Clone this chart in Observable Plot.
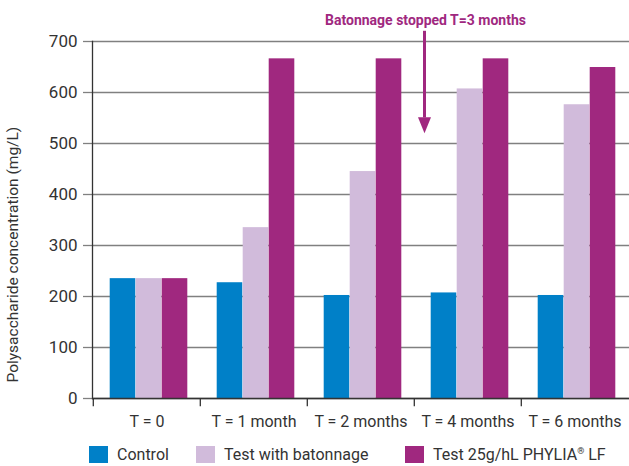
<!DOCTYPE html>
<html>
<head>
<meta charset="utf-8">
<script src="https://cdn.jsdelivr.net/npm/d3@7"></script>
<script src="https://cdn.jsdelivr.net/npm/@observablehq/plot@0.6"></script>
<style>
  html, body { margin: 0; padding: 0; background: #fff; }
  #chart { width: 629px; height: 466px; position: relative; font-family: Roboto, sans-serif; }
  #legend { display: flex; align-items: center; height: 31px; padding-left: 89px; padding-top: 8px; font-size: 16px; color: #333; box-sizing: border-box; white-space: nowrap; }
  .item { display: flex; align-items: center; flex: none; }
  .item:nth-child(1) { width: 107px; }
  .item:nth-child(2) { width: 209px; }
  .sw { width: 19px; height: 17px; margin-right: 9px; flex: none; }
  sup { font-size: 9px; vertical-align: 6px; line-height: 0; }
</style>
</head>
<body>
<div id="chart"></div>
<script>
const categories = ["T = 0", "T = 1 month", "T = 2 months", "T = 4 months", "T = 6 months"];
const seriesNames = ["Control", "Test with batonnage", "Test 25g/hL PHYLIA® LF"];
const control   = [235, 227, 202, 207, 202];
const batonnage = [235, 335, 445, 607, 576];
const phylia    = [235, 666, 666, 666, 649];
const colors = ["#0080c8", "#d1bbdb", "#a0287f"];
const yTicks = [0, 100, 200, 300, 400, 500, 600, 700];
const yLabel = "Polysaccharide concentration (mg/L)";
const annotationText = "Batonnage stopped T=3 months";
const annotationCategory = "T = 4 months";
const annotationTop = 720;
const annotationTip = 520;

const seriesValues = [control, batonnage, phylia];
const rows = seriesValues.flatMap((vals, s) => categories.map((c, i) => ({category: c, series: seriesNames[s], s, value: vals[i]})));

const purple = colors[2];
const downTriangle = {
  draw(ctx) {
    ctx.moveTo(0, 0);
    ctx.lineTo(-6.5, -16);
    ctx.lineTo(6.5, -16);
    ctx.closePath();
  }
};

const barW = 26;
const barMarks = seriesNames.map((name, s) =>
  Plot.barY(rows.filter(r => r.s === s), {
    x: "category", y: "value", fill: colors[s],
    insetLeft: 40.7, insetRight: 40.7, dx: (s - 1) * barW + 2
  })
);

const plot = Plot.plot({
  width: 629, height: 435,
  marginLeft: 92, marginRight: 0, marginTop: 41, marginBottom: 37,
  style: {fontFamily: "Roboto, sans-serif", fontSize: "16px", color: "#333", background: "white", overflow: "visible"},
  x: {domain: categories, padding: 0, axis: null},
  y: {domain: [0, 700], axis: null},
  marks: [
    Plot.gridY(yTicks, {stroke: "#808080", strokeOpacity: 1, strokeWidth: 1.3}),
    Plot.axisY(yTicks, {tickSize: 9, tickPadding: 6, stroke: "#808080", strokeWidth: 1.3, fill: "#333", fontSize: 17, label: null}),
    ...barMarks,
    Plot.ruleY([0], {stroke: "#333", strokeWidth: 1.3}),
    Plot.frame({anchor: "left", stroke: "#333", strokeWidth: 1.3}),
    Plot.ruleX(categories, {x: d => d, y1: 0, y2: -16, dx: -53.7, stroke: "#333", strokeWidth: 1.3}),
    Plot.axisX(categories, {tickSize: 0, tickPadding: 17, fontSize: 16, fill: "#333", label: null}),
    Plot.text([yLabel], {text: d => d, frameAnchor: "bottom-left", rotate: -90, textAnchor: "start", dx: -75, dy: -16, fontSize: 15.5, fill: "#333"}),
    Plot.ruleX([annotationText], {x: () => annotationCategory, y1: annotationTop, y2: annotationTip + 30, dx: -43.5, stroke: purple, strokeWidth: 3}),
    Plot.dot([annotationText], {x: () => annotationCategory, y: () => annotationTip, dx: -43.5, symbol: downTriangle, fill: purple, stroke: null}),
    Plot.text([annotationText], {text: d => d, x: () => annotationCategory, y: () => 741, dx: -42.5, fill: purple, fontWeight: "bold", fontSize: 14, letterSpacing: "-0.2px"})
  ]
});

const chart = document.getElementById("chart");
chart.appendChild(plot);
const legend = document.createElement("div");
legend.id = "legend";
seriesNames.forEach((name, i) => {
  const item = document.createElement("div");
  item.className = "item";
  const sw = document.createElement("div");
  sw.className = "sw";
  sw.style.background = colors[i];
  const label = document.createElement("span");
  label.innerHTML = name.replace("®", "<sup>®</sup>");
  item.appendChild(sw);
  item.appendChild(label);
  legend.appendChild(item);
});
chart.appendChild(legend);
</script>
</body>
</html>
